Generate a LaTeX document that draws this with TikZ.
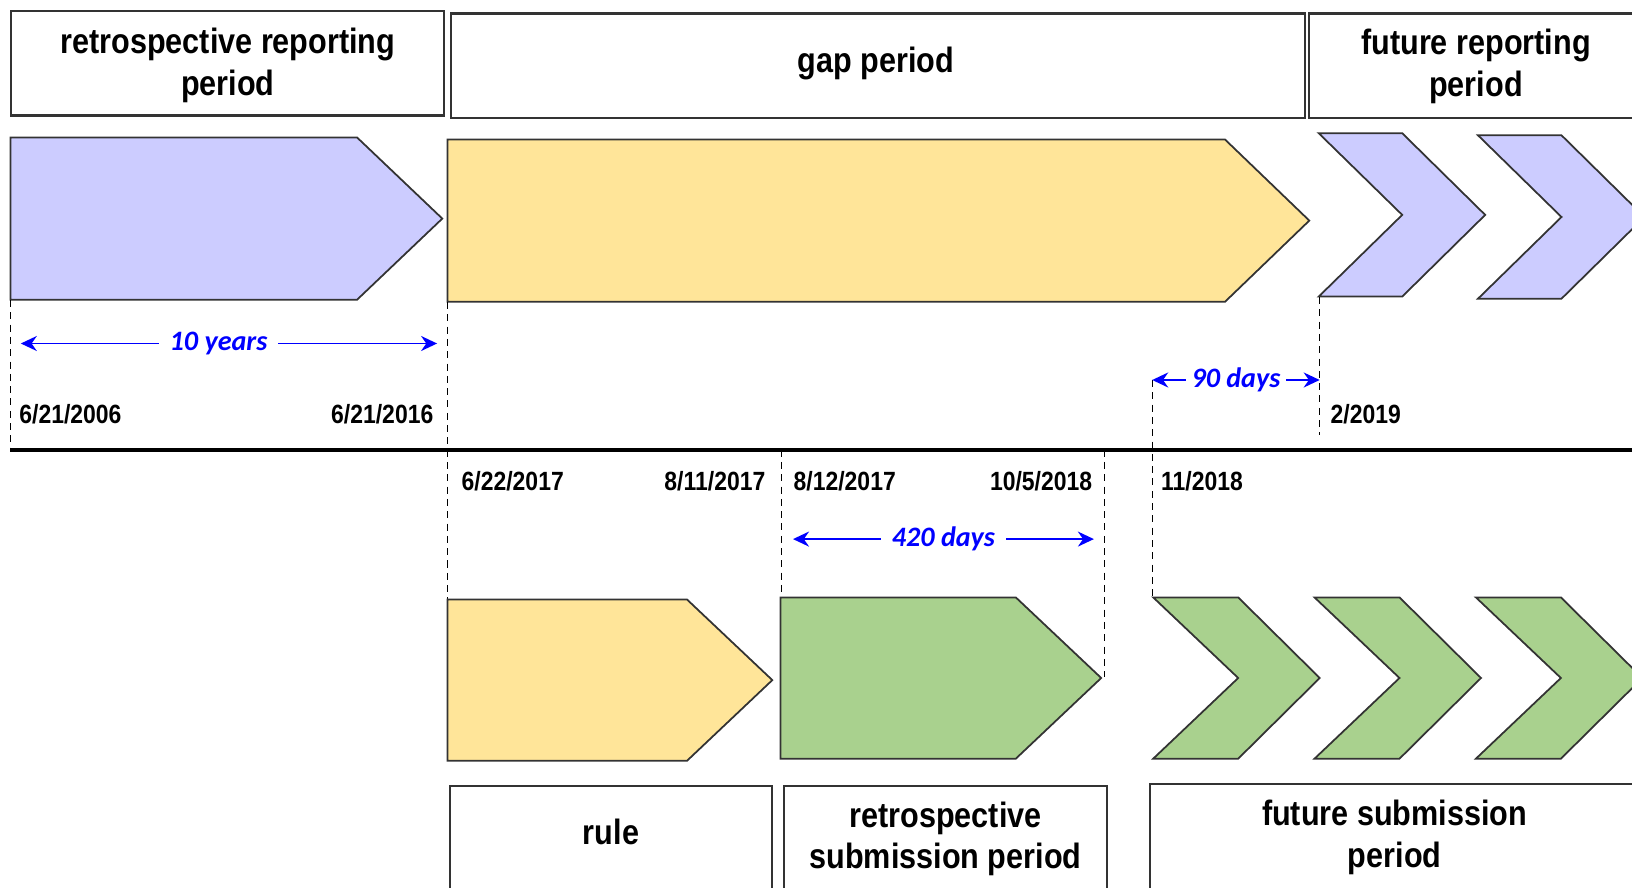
\documentclass[tikz,border=0pt]{standalone}
\usepackage{fontspec}
\setmainfont{Liberation Sans}[FakeStretch=0.87]
\newfontfamily\cotafont{Carlito}
\usepackage{tikz}
\usetikzlibrary{arrows.meta}
\definecolor{lavanda}{HTML}{CCCCFF}
\definecolor{arena}{HTML}{FFE599}
\definecolor{hoja}{HTML}{A9D18E}
\definecolor{trazo}{HTML}{333333}
\tikzset{
  periodbox/.style={draw=trazo,line width=0.6pt,fill=white},
  boxtext/.style={align=center,font=\fontsize{10}{11.8}\selectfont\bfseries},
  past/.style={fill=lavanda,draw=trazo,line width=0.5pt,line join=miter},
  gap/.style={fill=arena,draw=trazo,line width=0.5pt,line join=miter},
  subm/.style={fill=hoja,draw=trazo,line width=0.5pt,line join=miter},
  guide/.style={black,line width=0.4pt,dash pattern=on 2pt off 1.5pt},
  span/.style={{Stealth[length=1.6mm,width=1.5mm]}-{Stealth[length=1.6mm,width=1.5mm]},blue,line width=0.55pt},
  spanlbl/.style={fill=white,inner sep=3pt,text=blue,font=\cotafont\fontsize{8}{9}\selectfont\bfseries\itshape},
  datelbl/.style={inner sep=0pt,font=\fontsize{7.5}{9}\selectfont\bfseries},
  axisline/.style={black,line width=1.1pt}
}

\begin{document}
\begin{tikzpicture}[x=0.01cm,y=-0.01cm]
\useasboundingbox (0,0) rectangle (1632,888);
\clip (0,0) rectangle (1632,888);
% headings on top
\draw[periodbox] (11.4,11.4) rectangle (444.4,115.5);
\node[boxtext] (retrorep) at (227.9,65.2) {retrospective reporting\\period};
\draw[periodbox] (450.7,13.5) rectangle (1305.2,117.6);
\node[boxtext] (gapper) at (876,63.2) {gap period};
\draw[periodbox] (1309.3,13.5) rectangle (1660,117.6);
\node[boxtext] (futrep) at (1476,66.2) {future reporting\\period};
% reporting row
\draw[past] (10.4,137.4) -- (357,137.4) -- (442.3,218.6) -- (357,299.8) -- (10.4,299.8) -- cycle;
\draw[gap] (447.5,139.5) -- (1225,139.5) -- (1309.3,220.6) -- (1225,301.8) -- (447.5,301.8) -- cycle;
\foreach \x/\t in {1318.7/133.2,1478/135.3}
  \draw[past] (\x,\t) -- ++(83.5,0) -- ++(83,81.7) -- ++(-83,81.7) -- ++(-83.5,0) -- ++(83.5,-81.7) -- cycle;
% time axis
\coordinate (ax0) at (10.4,449.6);
\coordinate (ax1) at (1640,449.6);
\draw[axisline] (ax0) -- (ax1);
% dashed guides
\coordinate (ga0) at (10.4,300);    \coordinate (ga1) at (10.4,449.6);
\coordinate (gb0) at (447.5,302);   \coordinate (gb1) at (447.5,599.5);
\coordinate (gc0) at (1319.7,297);  \coordinate (gc1) at (1319.7,435);
\coordinate (gd0) at (1152.2,380);  \coordinate (gd1) at (1152.2,597.4);
\coordinate (ge0) at (781.6,449.6); \coordinate (ge1) at (781.6,597.4);
\coordinate (gf0) at (1104.3,449.6); \coordinate (gf1) at (1104.3,677);
\foreach \g in {a,b,c,d,e,f} \draw[guide] (g\g0) -- (g\g1);
% spans
\coordinate (yl) at (20.8,343.5);  \coordinate (yr) at (437.1,343.5);
\draw[span] (yl) -- (yr) node[spanlbl,pos=0.475] (tenyr) {10 years};
\coordinate (nl) at (1152.2,380);  \coordinate (nr) at (1319.7,380);
\draw[span] (nl) -- (nr) node[spanlbl,pos=0.5,inner xsep=1.5pt] (ninety) {90 days};
\coordinate (fl) at (793,539.1);   \coordinate (fr) at (1093.9,539.1);
\draw[span] (fl) -- (fr) node[spanlbl,midway] (fourtw) {420 days};
% dates
\node[datelbl,anchor=west] (d06) at (18.7,414) {6/21/2006};
\node[datelbl,anchor=east] (d16) at (434,414) {6/21/2016};
\node[datelbl,anchor=west] (d19) at (1330,414) {2/2019};
\node[datelbl,anchor=west] (d17a) at (461,481) {6/22/2017};
\node[datelbl,anchor=east] (d17b) at (766,481) {8/11/2017};
\node[datelbl,anchor=west] (d17c) at (793,481) {8/12/2017};
\node[datelbl,anchor=east] (d18a) at (1092.8,481) {10/5/2018};
\node[datelbl,anchor=west] (d18b) at (1160.5,481) {11/2018};
% submission row
\draw[gap] (447.5,599.5) -- (687,599.5) -- (772.3,680.1) -- (687,760.8) -- (447.5,760.8) -- cycle;
\draw[subm] (780.6,597.4) -- (1015.8,597.4) -- (1101.2,678) -- (1015.8,758.7) -- (780.6,758.7) -- cycle;
\foreach \x in {1153.2,1314.5,1475.9}
  \draw[subm] (\x,597.4) -- ++(85,0) -- ++(81.5,80.6) -- ++(-81.5,80.7) -- ++(-85,0) -- ++(85,-80.7) -- cycle;
% headings below
\draw[periodbox] (449.6,785.8) rectangle (772.3,900);
\node[boxtext] (rule) at (611,832) {rule};
\draw[periodbox] (783.7,785.8) rectangle (1107.4,900);
\node[boxtext] (retrosub) at (945.5,839) {retrospective\\submission period};
\draw[periodbox] (1150.1,783.7) rectangle (1660,900);
\node[boxtext] (futsub) at (1394.7,837.6) {future submission\\period};
\end{tikzpicture}
\end{document}
